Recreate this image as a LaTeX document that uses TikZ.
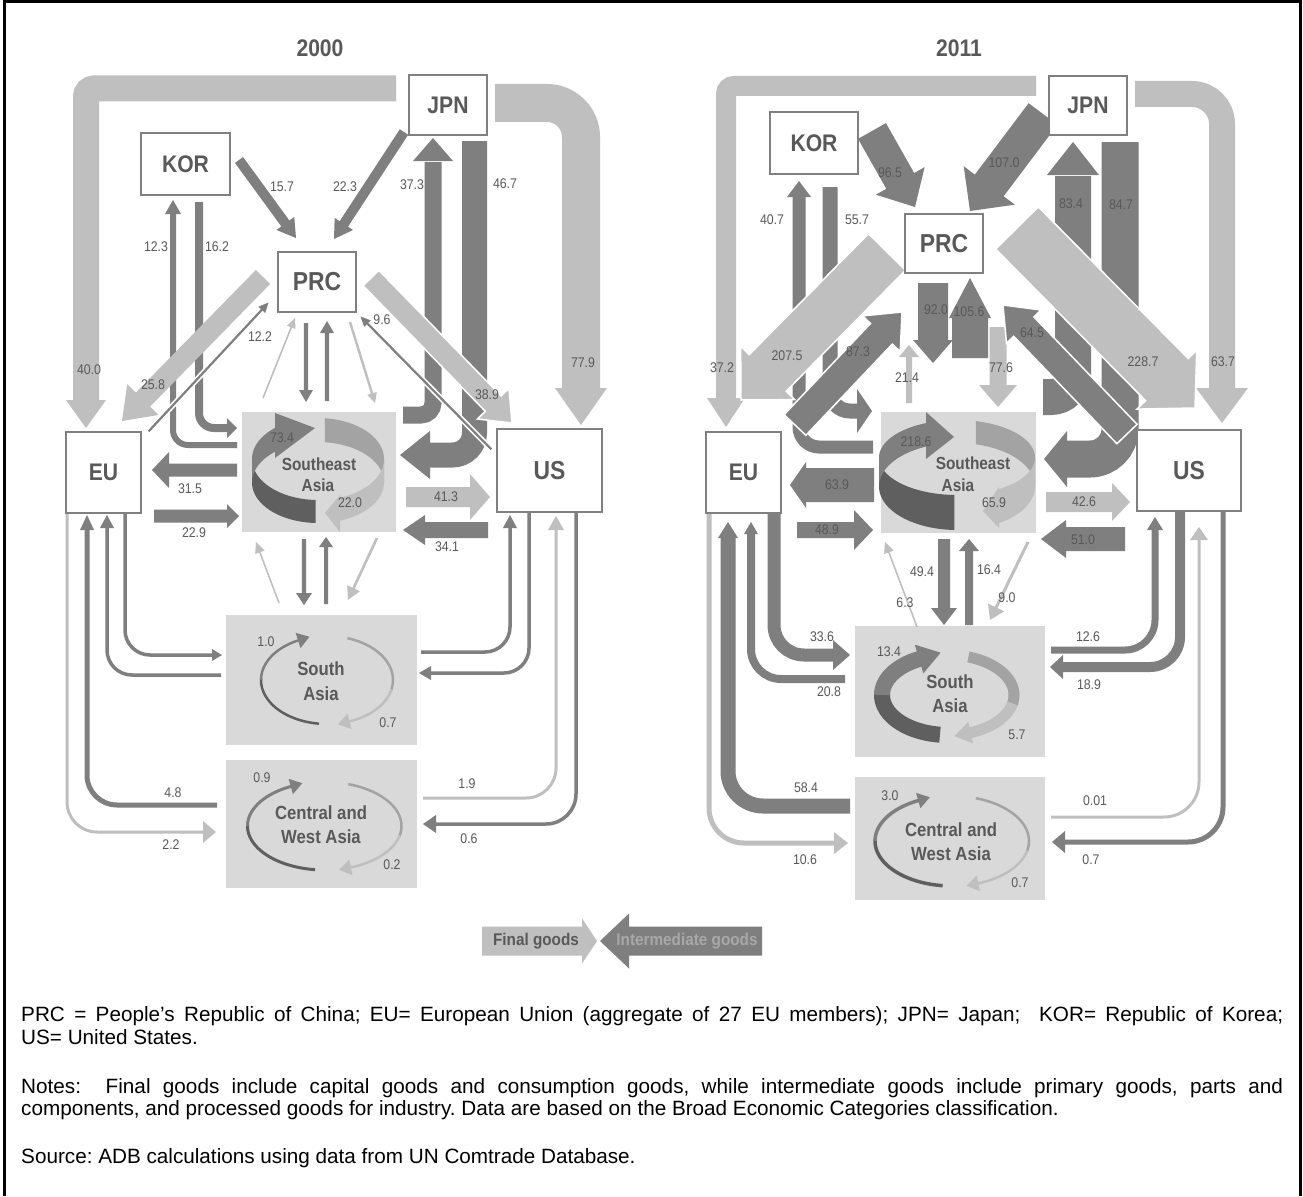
\documentclass[tikz,border=0pt]{standalone}
\usepackage{fontspec}
\setmainfont{Liberation Sans}
\newfontfamily\nf[FakeStretch=0.88]{Liberation Sans}
\newfontfamily\nfl[FakeStretch=0.9]{Liberation Sans}
\definecolor{lightc}{HTML}{BFBFBF}
\definecolor{darkc}{HTML}{7F7F7F}
\definecolor{wallc}{HTML}{5F5F5F}
\definecolor{midc}{HTML}{A3A3A3}
\definecolor{boxfill}{HTML}{D9D9D9}
\definecolor{txtc}{HTML}{595959}
\definecolor{boxc}{HTML}{808080}
\definecolor{legtxt}{HTML}{A8A8A8}
% straight block arrow: style, x1,y1, tip x2,y2, shaft half-width, head half-width, head length
\newcommand\barrow[8]{%
 \pgfmathsetmacro\badx{#4-(#2)}\pgfmathsetmacro\bady{#5-(#3)}%
 \pgfmathsetmacro\ban{100*sqrt((\badx/100)*(\badx/100)+(\bady/100)*(\bady/100))}%
 \pgfmathsetmacro\baux{\badx/\ban}\pgfmathsetmacro\bauy{\bady/\ban}%
 \pgfmathsetmacro\babx{#4-(#8)*(\baux)}\pgfmathsetmacro\baby{#5-(#8)*(\bauy)}%
 \filldraw[#1] ({#2-(#6)*(\bauy)},{#3+(#6)*(\baux)}) -- ({\babx-(#6)*(\bauy)},{\baby+(#6)*(\baux)}) -- ({\babx-(#7)*(\bauy)},{\baby+(#7)*(\baux)}) -- (#4,#5) -- ({\babx+(#7)*(\bauy)},{\baby-(#7)*(\baux)}) -- ({\babx+(#6)*(\bauy)},{\baby-(#6)*(\baux)}) -- ({#2+(#6)*(\bauy)},{#3-(#6)*(\baux)}) -- cycle;}
% arrow head only: style, base x,y, tip x,y, half-width
\newcommand\bhead[6]{%
 \pgfmathsetmacro\bhdx{#4-(#2)}\pgfmathsetmacro\bhdy{#5-(#3)}%
 \pgfmathsetmacro\bhn{100*sqrt((\bhdx/100)*(\bhdx/100)+(\bhdy/100)*(\bhdy/100))}%
 \pgfmathsetmacro\bhux{\bhdx/\bhn}\pgfmathsetmacro\bhuy{\bhdy/\bhn}%
 \fill[#1] ({#2-(#6)*(\bhuy)},{#3+(#6)*(\bhux)}) -- (#4,#5) -- ({#2+(#6)*(\bhuy)},{#3-(#6)*(\bhux)}) -- cycle;}
% head on an ellipse: color, cx, cy, a, b, angle, half-width, length
\newcommand\ehead[8]{%
 \pgfmathsetmacro\ehTx{-(#4)*sin(#6)}\pgfmathsetmacro\ehTy{(#5)*cos(#6)}%
 \pgfmathsetmacro\ehN{100*sqrt((\ehTx/100)*(\ehTx/100)+(\ehTy/100)*(\ehTy/100))}%
 \pgfmathsetmacro\ehux{\ehTx/\ehN}\pgfmathsetmacro\ehuy{\ehTy/\ehN}%
 \pgfmathsetmacro\ehMx{#2+(#4)*cos(#6)}\pgfmathsetmacro\ehMy{#3+(#5)*sin(#6)}%
 \fill[#1] ({\ehMx-(#7)*(\ehuy)},{\ehMy+(#7)*(\ehux)}) -- ({\ehMx+(#8)*(\ehux)},{\ehMy+(#8)*(\ehuy)}) -- ({\ehMx+(#7)*(\ehuy)},{\ehMy-(#7)*(\ehux)}) -- cycle;}
% ribbon face between upper ellipse (cx,cy1,rx,ry1) and lower ellipse (cx,cy2,rx,ry2), angles th1..th2
\newcommand\rib[9]{\fill[#1] plot[domain=#8:#9,samples=30] ({#2+(#3)*cos(\x)},{#4+(#5)*sin(\x)}) -- plot[domain=#9:#8,samples=30] ({#2+(#3)*cos(\x)},{#6+(#7)*sin(\x)}) -- cycle;}
% flat loop: cx cy rx ry wd wl hwd hwl
\newcommand\loopr[8]{%
 \draw[wallc, line width=#5] plot[domain=97:182,samples=30] ({#1+(#3)*cos(\x)},{#2+(#4)*sin(\x)});
 \draw[darkc, line width=#5] plot[domain=180:245,samples=25] ({#1+(#3)*cos(\x)},{#2+(#4)*sin(\x)});
 \ehead{darkc}{#1}{#2}{#3}{#4}{244}{#7}{#7*1.5}
 \draw[midc, line width=#6] plot[domain=-72:14,samples=30] ({#1+(#3)*cos(\x)},{#2+(#4)*sin(\x)});
 \draw[lightc, line width=#6] plot[domain=12:71,samples=25] ({#1+(#3)*cos(\x)},{#2+(#4)*sin(\x)});
 \ehead{lightc}{#1}{#2}{#3}{#4}{70}{#8}{#8*1.5}}
\newcommand\lab[3]{\node[labs] at (#1,#2) {#3};}
\tikzset{
 fg/.style={fill=lightc,draw=none},
 fgw/.style={fill=lightc,draw=white,line width=1.5pt},
 ig/.style={fill=darkc,draw=none},
 igw/.style={fill=darkc,draw=white,line width=1.5pt},
 wbox/.style={draw=boxc,line width=1.1pt,fill=white,inner sep=0pt,text=txtc,font=\nf\bfseries\fontsize{24}{24}\selectfont},
 gbox/.style={fill=boxfill,draw=none,inner sep=0pt},
 labs/.style={inner sep=0pt,text=txtc,font=\nf\fontsize{14}{14}\selectfont},
 rtxt/.style={inner sep=0pt,text=txtc,font=\nf\bfseries\fontsize{19}{19}\selectfont},
 stxt/.style={inner sep=0pt,text=txtc,font=\nf\bfseries\fontsize{17.5}{17.5}\selectfont},
 ttl/.style={inner sep=0pt,text=txtc,font=\nf\bfseries\fontsize{24}{24}\selectfont},
 legt/.style={inner sep=0pt,font=\nfl\bfseries\fontsize{17}{17}\selectfont},
 note/.style={inner sep=0pt,anchor=base west,font=\fontsize{20.7}{23}\selectfont\frenchspacing}
}
\begin{document}
\begin{tikzpicture}[x=1pt,y=-1pt]
\useasboundingbox (0,0) rectangle (1303,1196);
\fill[white] (0,0) rectangle (1303,1196);
\draw[black,line width=2.6pt] (4.5,1196) -- (4.5,1.3) -- (1300.7,1.3) -- (1300.7,1196);

%%%%%%%%%%%%%%%% 2000 %%%%%%%%%%%%%%%%
\node[ttl] (t2000) at (320,48) {2000};
\node[gbox,minimum width=154pt,minimum height=120pt] (seaA) at (319,472) {};
\node[gbox,minimum width=191pt,minimum height=130pt] (saA) at (321.5,680) {};
\node[gbox,minimum width=191pt,minimum height=128pt] (cwaA) at (321.5,824) {};

% JPN to EU / US
\draw[lightc,line width=26pt,rounded corners=8pt] (396,88.5) -- (86,88.5) -- (86,401);
\bhead{fg}{86}{400}{86}{428}{20}
\draw[lightc,line width=38pt,rounded corners=34pt] (495,103) -- (581,103) -- (581,389);
\bhead{fg}{581}{388}{581}{425}{26}
% SEA <-> JPN
\draw[darkc,line width=17pt,rounded corners=12pt] (403,415) -- (433,415) -- (433,162);
\bhead{ig}{433}{161}{433}{138}{20}
\draw[darkc,line width=25pt,rounded corners=22pt] (474.5,141) -- (474.5,455) -- (429,455);
\bhead{ig}{430}{455}{400}{455}{24}
% KOR, JPN -> PRC
\barrow{ig}{239}{160}{296}{238}{5}{11}{18}
\barrow{ig}{404}{132}{334}{239}{5}{11}{18}
% KOR <-> SEA
\draw[darkc,line width=6pt,rounded corners=15pt] (237,445) -- (173,445) -- (173,213);
\bhead{ig}{173}{214}{173}{200}{8}
\draw[darkc,line width=8pt,rounded corners=15pt] (199,202) -- (199,428) -- (228,428);
\bhead{ig}{227}{428}{237}{428}{10}
% PRC <-> EU
\barrow{fg}{263}{277}{122}{421}{10}{22}{30}
\barrow{igw}{148}{432}{270}{301}{2}{6}{13}
% PRC <-> US
\barrow{fgw}{371}{278}{512}{423}{11}{22}{27}
\barrow{igw}{492}{450}{359}{315}{2}{6}{13}
% PRC <-> SEA
\barrow{ig}{306}{323}{306}{402}{2.2}{7}{12}
\barrow{ig}{327}{401}{327}{321}{2.2}{7}{12}
\barrow{fg}{263}{398}{295}{318}{0.8}{4.5}{10}
\barrow{fg}{350}{322}{375}{403}{1.2}{5}{10}
% EU <-> SEA, US <-> SEA
\barrow{ig}{237}{470}{152}{470}{6.5}{18}{17}
\barrow{ig}{154}{516}{239}{516}{6.5}{12}{12}
\barrow{fg}{406}{497}{490}{497}{10}{23}{20}
\barrow{ig}{488}{530}{403}{530}{8}{15}{22}
% SEA <-> South Asia
\barrow{ig}{304}{539}{304}{605}{2.2}{8}{12}
\barrow{ig}{326}{604}{326}{537}{2}{7}{10}
\barrow{fg}{279}{603}{256}{542}{0.8}{5}{11}
\barrow{fg}{377}{538}{348}{600}{1.3}{7}{13}
% EU lines
\draw[lightc,line width=3pt,rounded corners=30pt] (67,514) -- (67,832) -- (204,832);
\bhead{fg}{203}{832}{216}{832}{11}
\draw[darkc,line width=5pt,rounded corners=30pt] (217,805) -- (87,805) -- (87,529);
\bhead{ig}{87}{530}{87}{515}{7}
\draw[darkc,line width=3.5pt,rounded corners=25pt] (221,675) -- (107,675) -- (107,527);
\bhead{ig}{107}{528}{107}{515}{7}
\draw[darkc,line width=3.5pt,rounded corners=25pt] (125,514) -- (125,655) -- (213,655);
\bhead{ig}{212}{655}{222}{655}{6}
% US lines
\draw[darkc,line width=3.5pt,rounded corners=25pt] (421,652) -- (510,652) -- (510,527);
\bhead{ig}{510}{528}{510}{515}{7}
\draw[darkc,line width=3.5pt,rounded corners=25pt] (529,513) -- (529,673) -- (430,673);
\bhead{ig}{431}{673}{419}{673}{7}
\draw[lightc,line width=3pt,rounded corners=30pt] (423,798) -- (556,798) -- (556,529);
\bhead{fg}{556}{530}{556}{516}{8}
\draw[darkc,line width=3.5pt,rounded corners=30pt] (576,513) -- (576,824) -- (435,824);
\bhead{ig}{436}{824}{423}{824}{9}
% Southeast Asia ribbon loop
\rib{wallc}{318}{66}{459}{41}{482.5}{40.5}{92}{180}
\rib{darkc}{318}{66}{459}{41}{482.5}{40.5}{180}{229.5}
\fill[darkc] (275,413) -- (315,428) -- (275,458) -- cycle;
\rib{midc}{318}{66}{459}{41}{482.5}{40.5}{276}{360}
\rib{lightc}{318}{66}{459}{41}{482.5}{40.5}{0}{70.5}
\fill[lightc] (340,495) -- (325,513) -- (340,532) -- cycle;
\loopr{327}{680}{66}{44}{2.5pt}{2.5pt}{8}{8}
\loopr{324.5}{826}{77}{44}{3pt}{2.5pt}{8}{8}
\node[stxt] (seatA1) at (319,464) {Southeast};
\node[stxt] (seatA2) at (318,485) {Asia};
\node[rtxt] (satA1) at (321,669) {South};
\node[rtxt] (satA2) at (321,694) {Asia};
\node[rtxt] (cwtA1) at (321,813) {Central and};
\node[rtxt] (cwtA2) at (321,837) {West Asia};
% boxes
\node[wbox,minimum width=78pt,minimum height=60pt] (jpnA) at (448,105) {JPN};
\node[wbox,minimum width=89pt,minimum height=62pt] (korA) at (185.5,164) {KOR};
\node[wbox,minimum width=78pt,minimum height=60pt,font=\nf\bfseries\fontsize{26}{26}\selectfont] (prcA) at (317,282) {PRC};
\node[wbox,minimum width=75pt,minimum height=81pt] (euA) at (103.5,472.5) {EU};
\node[wbox,minimum width=105pt,minimum height=83pt,font=\nf\bfseries\fontsize{26}{26}\selectfont] (usA) at (549.5,470.5) {US};
% labels
\lab{89}{370}{40.0}\lab{583}{363}{77.9}\lab{282}{187}{15.7}\lab{345}{187}{22.3}
\lab{412}{185}{37.3}\lab{505}{184}{46.7}\lab{156}{247}{12.3}\lab{217}{247}{16.2}
\lab{260}{337}{12.2}\lab{382}{320}{9.6}\lab{153}{385}{25.8}\lab{487}{395}{38.9}
\lab{282}{438}{73.4}\lab{350}{503}{22.0}\lab{190}{489}{31.5}\lab{194}{533}{22.9}
\lab{446}{497}{41.3}\lab{447}{547}{34.1}\lab{266}{642}{1.0}\lab{388}{723}{0.7}
\lab{173}{793}{4.8}\lab{171}{845}{2.2}\lab{467}{784}{1.9}\lab{469}{839}{0.6}
\lab{262}{778}{0.9}\lab{392}{865}{0.2}

%%%%%%%%%%%%%%%% 2011 %%%%%%%%%%%%%%%%
\node[ttl] (t2011) at (959,48) {2011};
\node[gbox,minimum width=155pt,minimum height=121pt] (seaB) at (958.5,472.5) {};
\node[gbox,minimum width=190pt,minimum height=131pt] (saB) at (950,691.5) {};
\node[gbox,minimum width=190pt,minimum height=123pt] (cwaB) at (950,838.5) {};

\draw[lightc,line width=20pt,rounded corners=8pt] (1036,86) -- (726,86) -- (726,399);
\bhead{fg}{726}{398}{726}{427}{19}
\draw[lightc,line width=26pt,rounded corners=30pt] (1135,94) -- (1222,94) -- (1222,389);
\bhead{fg}{1222}{388}{1222}{423}{26}
% SEA <-> JPN
\draw[darkc,line width=36pt,rounded corners=22pt] (1043,397) -- (1073,397) -- (1073,176);
\bhead{ig}{1073}{175}{1073}{142}{26}
\draw[darkc,line width=37pt,rounded corners=30pt] (1120,142) -- (1120,459) -- (1066,459);
\bhead{ig}{1067}{459}{1044}{459}{28}
% KOR, JPN -> PRC
\barrow{ig}{872}{131}{915}{207}{16}{28}{30}
\barrow{ig}{1043}{114}{970}{211}{18}{32}{32}
% KOR <-> SEA
\draw[darkc,line width=13pt,rounded corners=20pt] (873,447) -- (799,447) -- (799,196);
\bhead{ig}{799}{197}{799}{181}{12}
\draw[darkc,line width=15pt,rounded corners=20pt] (830,187) -- (830,411) -- (858,411);
\bhead{ig}{857}{411}{872}{411}{22}
% PRC <-> SEA
\barrow{ig}{933}{283}{933}{363}{15}{20}{23}
\barrow{ig}{970}{358}{970}{278}{18}{21}{40}
\barrow{fg}{909}{403}{909}{345}{3}{10}{12}
\barrow{fg}{998}{327}{998}{407}{8.5}{19}{22}
% PRC <-> EU, US
\barrow{fgw}{887}{252}{741}{400}{26}{38}{38}
\barrow{igw}{795}{425}{902}{312}{15}{26}{30}
\barrow{fgw}{1017}{228}{1195}{408}{30}{42}{40}
\barrow{igw}{1127}{434}{1003}{305}{14}{24}{30}
% EU <-> SEA, US <-> SEA
\barrow{ig}{874}{485}{790}{485}{17}{23}{16}
\barrow{ig}{797}{530}{873}{530}{8}{20}{19}
\barrow{fg}{1046}{502}{1130}{502}{10}{19}{18}
\barrow{ig}{1125}{539}{1041}{539}{12}{19}{25}
% SEA <-> South Asia
\barrow{ig}{944}{539}{944}{625}{6}{13}{17}
\barrow{ig}{969}{625}{969}{539}{4}{10}{12}
\barrow{fg}{917}{627}{885}{542}{0.8}{5}{11}
\barrow{fg}{1028}{542}{990}{620}{1.5}{9}{14}
% EU lines
\draw[lightc,line width=5pt,rounded corners=35pt] (709,514) -- (709,843) -- (835,843);
\bhead{fg}{834}{843}{848}{843}{11}
\draw[darkc,line width=15pt,rounded corners=35pt] (850,806) -- (728,806) -- (728,537);
\bhead{ig}{728}{538}{728}{522}{10}
\draw[darkc,line width=8pt,rounded corners=30pt] (845,679) -- (751,679) -- (751,533);
\bhead{ig}{751}{534}{751}{522}{7}
\draw[darkc,line width=13pt,rounded corners=30pt] (774,514) -- (774,655) -- (834,655);
\bhead{ig}{833}{655}{850}{655}{15}
% US lines
\draw[darkc,line width=7pt,rounded corners=30pt] (1051,650) -- (1155,650) -- (1155,529);
\bhead{ig}{1155}{530}{1155}{517}{8}
\draw[darkc,line width=10pt,rounded corners=30pt] (1180,512) -- (1180,667) -- (1062,667);
\bhead{ig}{1063}{667}{1050}{667}{12}
\draw[lightc,line width=3pt,rounded corners=35pt] (1051,817) -- (1199,817) -- (1199,539);
\bhead{fg}{1199}{540}{1199}{527}{9}
\draw[darkc,line width=5pt,rounded corners=35pt] (1223,512) -- (1223,842) -- (1064,842);
\bhead{ig}{1065}{842}{1052}{842}{11}
% Southeast Asia ribbon loop
\rib{wallc}{957}{78}{457.5}{37.5}{486.5}{43.5}{92}{180}
\rib{darkc}{957}{78}{457.5}{37.5}{486.5}{43.5}{180}{246.6}
\fill[darkc] (926,412) -- (954,437) -- (926,459) -- cycle;
\rib{midc}{957}{78}{457.5}{37.5}{486.5}{43.5}{284}{360}
\rib{lightc}{957}{78}{457.5}{37.5}{486.5}{43.5}{0}{57.4}
\fill[lightc] (999,487) -- (983,511) -- (999,528) -- cycle;
\loopr{948}{695}{66}{40}{16pt}{11pt}{15}{11}
\loopr{952}{841}{77}{45}{3.5pt}{2.5pt}{8}{8}
\node[stxt] (seatB1) at (973,463) {Southeast};
\node[stxt] (seatB2) at (958,485) {Asia};
\node[rtxt] (satB1) at (950,682) {South};
\node[rtxt] (satB2) at (950,706) {Asia};
\node[rtxt] (cwtB1) at (951,830) {Central and};
\node[rtxt] (cwtB2) at (951,854) {West Asia};
% boxes
\node[wbox,minimum width=78pt,minimum height=59pt] (jpnB) at (1088,105.5) {JPN};
\node[wbox,minimum width=88pt,minimum height=62pt] (korB) at (814,143) {KOR};
\node[wbox,minimum width=78pt,minimum height=59pt,font=\nf\bfseries\fontsize{26}{26}\selectfont] (prcB) at (944,243.5) {PRC};
\node[wbox,minimum width=75pt,minimum height=81pt] (euB) at (743.5,472.5) {EU};
\node[wbox,minimum width=104pt,minimum height=81pt,font=\nf\bfseries\fontsize{26}{26}\selectfont] (usB) at (1189,470.5) {US};
% labels
\lab{722}{368}{37.2}\lab{1223}{362}{63.7}\lab{890}{173}{96.5}\lab{1004}{163}{107.0}
\lab{1071}{204}{83.4}\lab{1121}{205}{84.7}\lab{772}{220}{40.7}\lab{857}{220}{55.7}
\lab{787}{356}{207.5}\lab{858}{352}{87.3}\lab{1143}{362}{228.7}\lab{1032}{333}{64.5}
\lab{936}{310}{92.0}\lab{969}{312}{105.6}\lab{907}{378}{21.4}\lab{1001}{368}{77.6}
\lab{916}{442}{218.6}\lab{994}{503}{65.9}\lab{837}{485}{63.9}\lab{827}{530}{48.9}
\lab{1084}{502}{42.6}\lab{1083}{540}{51.0}\lab{922}{572}{49.4}\lab{989}{570}{16.4}
\lab{905}{603}{6.3}\lab{1007}{598}{9.0}\lab{822}{637}{33.6}\lab{829}{692}{20.8}
\lab{1088}{637}{12.6}\lab{1089}{685}{18.9}\lab{889}{652}{13.4}\lab{1017}{735}{5.7}
\lab{806}{788}{58.4}\lab{805}{860}{10.6}\lab{1095}{801}{0.01}\lab{1091}{860}{0.7}
\lab{890}{796}{3.0}\lab{1020}{883}{0.7}

%%%%%%%%%%%%%%%% legend %%%%%%%%%%%%%%%%
\barrow{fg}{482}{941}{597}{941}{14.5}{22.5}{15}
\barrow{ig}{762}{941}{600}{941}{14.5}{27.5}{29}
\node[legt,text=txtc] (legF) at (536,941) {Final goods};
\node[legt,text=legtxt] (legI) at (687,941) {Intermediate goods};

%%%%%%%%%%%%%%%% notes %%%%%%%%%%%%%%%%
\node[note] (n1) at (21,1021) {\makebox[1262pt][s]{PRC = People’s Republic of China; EU= European Union (aggregate of 27 EU members); JPN= Japan;\ \ KOR= Republic of Korea;}};
\node[note] (n2) at (21,1044) {US= United States.};
\node[note] (n3) at (21,1093) {\makebox[1262pt][s]{Notes:\ \ Final goods include capital goods and consumption goods, while intermediate goods include primary goods, parts and}};
\node[note] (n4) at (21,1115) {components, and processed goods for industry. Data are based on the Broad Economic Categories classification.};
\node[note] (n5) at (21,1163) {Source: ADB calculations using data from UN Comtrade Database.};
\end{tikzpicture}
\end{document}
